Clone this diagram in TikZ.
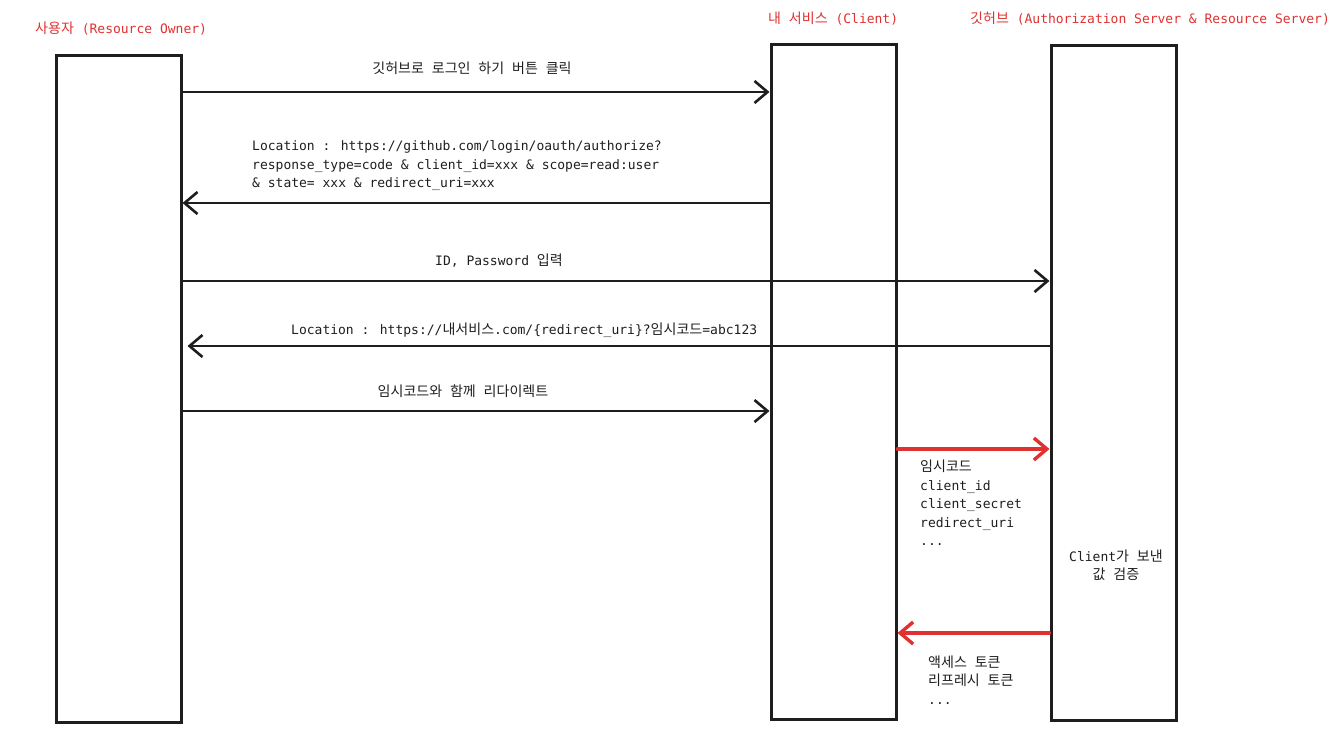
\documentclass[tikz,border=0pt]{standalone}
\usepackage{fontspec}
\setmainfont{DejaVu Sans Mono}
\newfontfamily\kr[Scale=1.08]{Noto Sans CJK KR}
\newcommand\K[1]{{\kr #1}}
\usetikzlibrary{arrows.meta}
\definecolor{ink}{HTML}{1E1E1E}
\definecolor{exred}{HTML}{E03131}
\begin{document}
\begin{tikzpicture}[x=1pt,y=-1pt,
  lifebox/.style={draw=ink, line width=3pt, minimum width=125pt, inner sep=0pt},
  msg/.style={draw=ink, line width=2.6pt, line cap=round, -{Straight Barb[length=13pt,width=22pt,line width=2.6pt]}},
  redmsg/.style={draw=exred, line width=3.4pt, line cap=round, -{Straight Barb[length=13pt,width=22pt,line width=3.4pt]}},
  lbl/.style={font=\fontsize{13}{18.5}\selectfont, text=ink, inner sep=0pt},
  hdr/.style={font=\fontsize{13}{16}\selectfont, text=exred, anchor=west, inner sep=0pt}]
\useasboundingbox (0,0) rectangle (1339,753);

% headers
\node[hdr] (h1) at (35,29) {\K{사용자} (Resource Owner)};
\node[hdr] (h2) at (768,19) {\K{내} \K{서비스} (Client)};
\node[hdr] (h3) at (970,19) {\K{깃허브} (Authorization Server \& Resource Server)};

% lifeline boxes
\node[lifebox, minimum height=667pt] (user) at (118.5,388.5) {};
\node[lifebox, minimum height=675pt] (client) at (833.5,381.5) {};
\node[lifebox, minimum height=675pt] (gh) at (1113.5,382.5) {};

% y levels
\coordinate (y1) at (0,92);
\coordinate (y2) at (0,203);
\coordinate (y3) at (0,281);
\coordinate (y4) at (0,346);
\coordinate (y5) at (0,411);
\coordinate (y6) at (0,449);
\coordinate (y7) at (0,633);

% messages
\draw[msg] (user.east |- y1) -- (client.west |- y1);
\draw[msg] (client.west |- y2) -- (user.east |- y2);
\draw[msg] (user.east |- y3) -- (gh.west |- y3);
\draw[msg, shorten >=5pt] (gh.west |- y4) -- (user.east |- y4);
\draw[msg] (user.east |- y5) -- (client.west |- y5);
\draw[redmsg] (client.east |- y6) -- (gh.west |- y6);
\draw[redmsg] (gh.west |- y7) -- (client.east |- y7);

% labels
\node[lbl] (l1) at (472,68) {\K{깃허브로} \K{로그인} \K{하기} \K{버튼} \K{클릭}};
\node[lbl, align=left, anchor=west] (l2) at (252,166) {Location : https://github.com/login/oauth/authorize?\\response\_type=code \& client\_id=xxx \& scope=read:user\\\& state= xxx \& redirect\_uri=xxx};
\node[lbl] (l3) at (499,261) {ID, Password \K{입력}};
\node[lbl, anchor=west] (l4) at (291,330) {Location : https://\K{내서비스}.com/\{redirect\_uri\}?\K{임시코드}=abc123};
\node[lbl] (l5) at (463,391) {\K{임시코드와} \K{함께} \K{리다이렉트}};
\node[lbl, align=left, anchor=west] (l6) at (920,503) {\K{임시코드}\\client\_id\\client\_secret\\redirect\_uri\\...};
\node[lbl, align=center] (l7) at (1116,565) {Client\K{가} \K{보낸}\\\K{값} \K{검증}};
\node[lbl, align=left, anchor=west] (l8) at (928,680) {\K{액세스} \K{토큰}\\\K{리프레시} \K{토큰}\\...};
\end{tikzpicture}
\end{document}
